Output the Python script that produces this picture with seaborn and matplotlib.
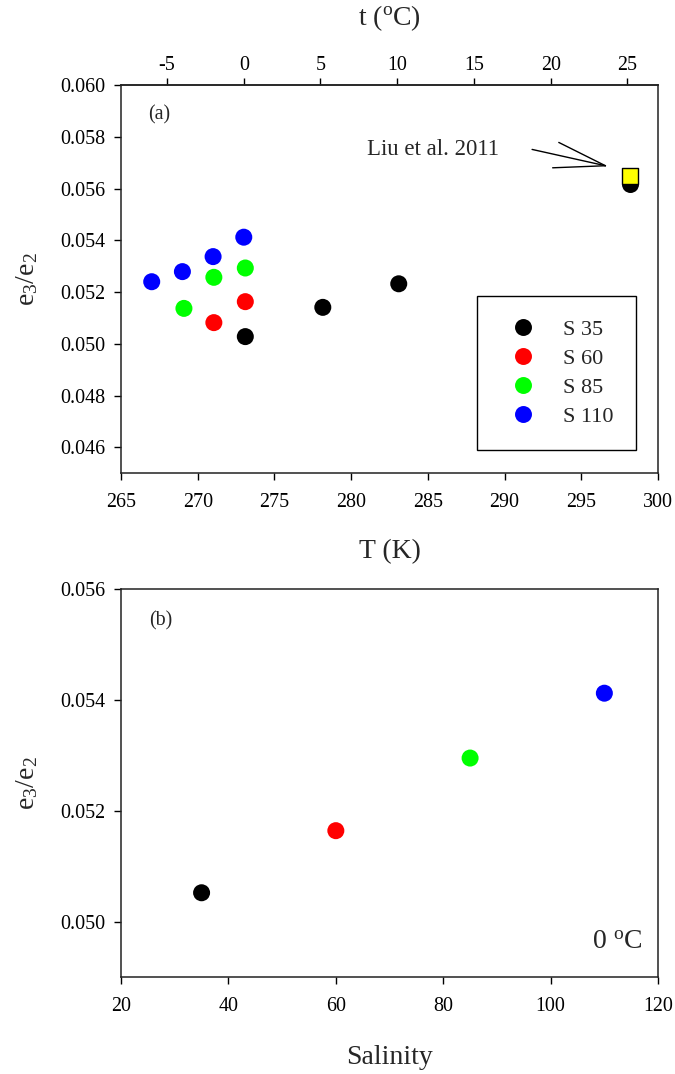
import numpy as np
import pandas as pd
import matplotlib
matplotlib.use("Agg")
import matplotlib.pyplot as plt
import seaborn as sns
from matplotlib.lines import Line2D

# ---------------- data ----------------
# panel (a): e3/e2 vs temperature for four salinities
T_s35 = [273.1, 278.15, 283.1]
r_s35 = [0.05028, 0.05141, 0.05232]
T_s60 = [271.05, 273.1]
r_s60 = [0.05082, 0.05163]
T_s85 = [269.1, 271.05, 273.1]
r_s85 = [0.05137, 0.05257, 0.05293]
T_s110 = [267.0, 269.0, 271.0, 273.0]
r_s110 = [0.05240, 0.05279, 0.05337, 0.05412]

# Liu et al. 2011 reference (25 C)
T_liu = [298.15]
r_liu_circle = [0.05617]
r_liu_square = [0.05650]

# annotation pointer lines: tip and three tails
arrow_tip = (296.57, 0.05688)
arrow_tails_T = [291.79, 293.53, 293.13]
arrow_tails_r = [0.05751, 0.05778, 0.05680]

# panel (b): e3/e2 vs salinity at 0 C
salinity = [35, 60, 85, 110]
r_0C = [0.05052, 0.05164, 0.05295, 0.05412]

series_labels = ["S 35", "S 60", "S 85", "S 110"]
series_colors = ["#000000", "#ff0000", "#00ff00", "#0000ff"]

# tick values
xticks_a = [265, 270, 275, 280, 285, 290, 295, 300]
yticks_a = [0.046, 0.048, 0.050, 0.052, 0.054, 0.056, 0.058, 0.060]
tticks_a = [-5, 0, 5, 10, 15, 20, 25]
xticks_b = [20, 40, 60, 80, 100, 120]
yticks_b = [0.050, 0.052, 0.054, 0.056]

# ---------------- style ----------------
sns.set_theme(style="white")
plt.rcParams["font.family"] = ["Liberation Serif", "DejaVu Serif"]
plt.rcParams["mathtext.fontset"] = "custom"
plt.rcParams["mathtext.rm"] = "Liberation Serif"
plt.rcParams["mathtext.it"] = "Liberation Serif:italic"
plt.rcParams["axes.unicode_minus"] = False
plt.rcParams["axes.edgecolor"] = "#222222"
plt.rcParams["axes.linewidth"] = 1.1

TICK_FS = 14.4
LABEL_FS = 20
dpi = 100
fig = plt.figure(figsize=(6.75, 10.74), dpi=dpi)

ax_a = fig.add_axes([0.1793, 0.5593, 0.7956, 0.3616])
ax_b = fig.add_axes([0.1793, 0.0903, 0.7956, 0.3613])


def style_ticks(ax):
    ax.tick_params(axis="both", which="both", direction="out", length=5, width=1,
                   labelsize=TICK_FS, colors="black", bottom=True, left=True,
                   top=False, right=False)
    ax.tick_params(axis="x", pad=9.5)
    ax.tick_params(axis="y", pad=6.5)


# ---------------- panel (a) ----------------
df_a = pd.concat([
    pd.DataFrame({"T": T_s35, "r": r_s35, "S": series_labels[0]}),
    pd.DataFrame({"T": T_s60, "r": r_s60, "S": series_labels[1]}),
    pd.DataFrame({"T": T_s85, "r": r_s85, "S": series_labels[2]}),
    pd.DataFrame({"T": T_s110, "r": r_s110, "S": series_labels[3]}),
], ignore_index=True)
pal = dict(zip(series_labels, series_colors))

sns.scatterplot(data=df_a, x="T", y="r", hue="S", palette=pal, s=150,
                linewidth=0, legend=False, ax=ax_a, zorder=3)
sns.scatterplot(x=T_liu, y=r_liu_circle, color="black", s=150, linewidth=0,
                ax=ax_a, zorder=3)
sns.scatterplot(x=T_liu, y=r_liu_square, color="#ffff00", marker="s", s=120,
                edgecolor="black", linewidth=1.0, ax=ax_a, zorder=4)

for tx, ty in zip(arrow_tails_T, arrow_tails_r):
    ax_a.plot([tx, arrow_tip[0]], [ty, arrow_tip[1]], color="black", lw=1.0, zorder=2)
ax_a.text(281.0, 0.05752, "Liu et al. 2011", fontsize=16.4, ha="left", va="center")

ax_a.set_xlim(265, 300)
ax_a.set_ylim(0.045, 0.060)
ax_a.set_xticks(xticks_a)
ax_a.set_yticks(yticks_a)
ax_a.set_yticklabels([f"{v:.3f}" for v in yticks_a])
style_ticks(ax_a)
ax_a.set_xlabel("T (K)", fontsize=LABEL_FS)
ax_a.xaxis.set_label_coords(0.5, -0.17)
ax_a.set_ylabel(r"e$_{\rm 3}$/e$_{\rm 2}$", fontsize=LABEL_FS)
ax_a.yaxis.set_label_coords(-0.15, 0.5)
ax_a.text(0.05, 0.923, "(a)", transform=ax_a.transAxes, fontsize=TICK_FS,
          ha="left", va="center")

sec = ax_a.secondary_xaxis("top", functions=(lambda T: T - 273.0, lambda t: t + 273.0))
sec.set_xticks(tticks_a)
sec.set_xticklabels([str(t) for t in tticks_a])
sec.tick_params(direction="out", length=5, width=1, pad=2.5,
                labelsize=TICK_FS, colors="black")
fig.text((121 + 658) / 2 / 675, 1 - 18 / 1074, r"t ($^{\rm o}$C)", fontsize=LABEL_FS,
         ha="center", va="center")

handles = [Line2D([0], [0], marker="o", linestyle="none", markersize=12.2,
                  markerfacecolor=c, markeredgewidth=0) for c in series_colors]
leg = ax_a.legend(handles, series_labels, loc="upper left",
                  bbox_to_anchor=(0.663, 0.4566), fontsize=16, frameon=True,
                  fancybox=False, framealpha=1, edgecolor="black",
                  borderpad=1.05, labelspacing=0.38, handlelength=2.0,
                  handletextpad=0.8, borderaxespad=0)
leg.get_frame().set_linewidth(1.0)

# ---------------- panel (b) ----------------
df_b = pd.DataFrame({"Sal": salinity, "r": r_0C, "S": series_labels})
sns.scatterplot(data=df_b, x="Sal", y="r", hue="S", palette=pal, s=150,
                linewidth=0, legend=False, ax=ax_b, zorder=3)
ax_b.set_xlim(20, 120)
ax_b.set_ylim(0.049, 0.056)
ax_b.set_xticks(xticks_b)
ax_b.set_yticks(yticks_b)
ax_b.set_yticklabels([f"{v:.3f}" for v in yticks_b])
style_ticks(ax_b)
ax_b.set_xlabel("Salinity", fontsize=LABEL_FS)
ax_b.xaxis.set_label_coords(0.5, -0.175)
ax_b.set_ylabel(r"e$_{\rm 3}$/e$_{\rm 2}$", fontsize=LABEL_FS)
ax_b.yaxis.set_label_coords(-0.15, 0.5)
ax_b.text(0.052, 0.918, "(b)", transform=ax_b.transAxes, fontsize=TICK_FS,
          ha="left", va="center")
ax_b.text(0.97, 0.088, r"0 $^{\rm o}$C", transform=ax_b.transAxes, fontsize=LABEL_FS,
          ha="right", va="center")

fig.savefig("out.png", dpi=dpi)
